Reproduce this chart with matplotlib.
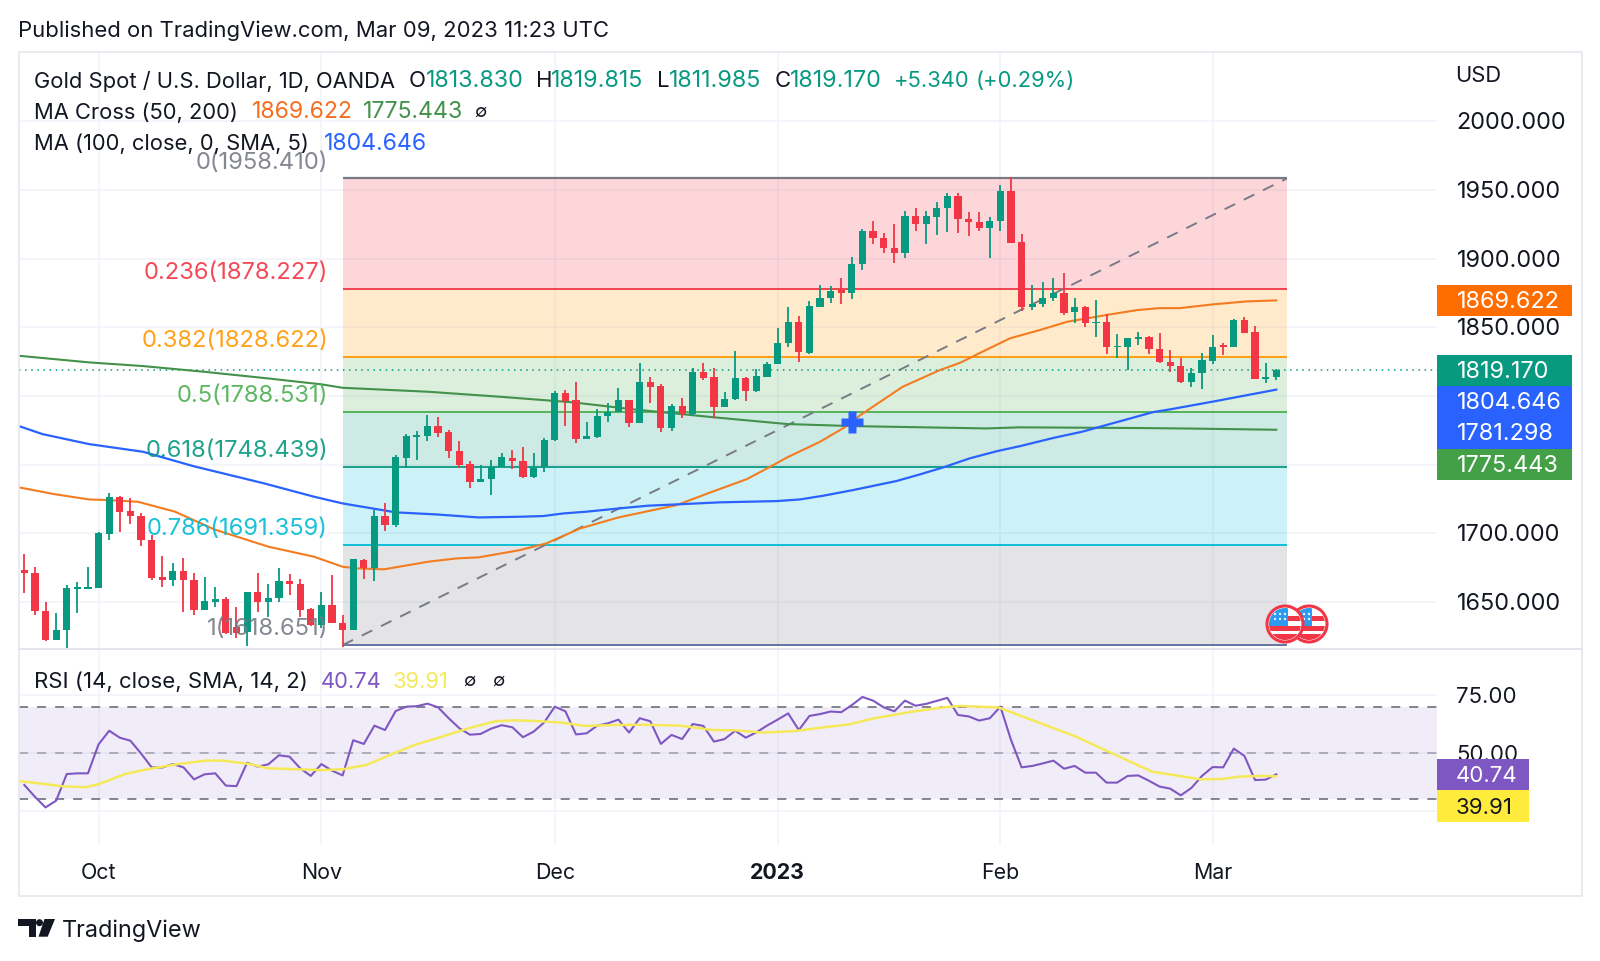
import matplotlib
matplotlib.use('Agg')
import matplotlib.pyplot as plt
from matplotlib.patches import Rectangle, Circle, Polygon, FancyBboxPatch
from matplotlib.transforms import ScaledTranslation
import numpy as np

plt.rcParams['font.family'] = ['Inter', 'DejaVu Sans']

opens = [1673.3,1671.3,1643.7,1622.3,1629.6,1659.7,1659.7,1660.2,1699.5,1726.2,
         1716,1712.8,1695.1,1667.9,1666,1672.8,1666,1644.2,1650,1651.9,
         1632,1628.1,1657,1649.7,1653.1,1665.3,1663.1,1644.6,1633.2,1647.8,
         1635,1629.6,1680.6,1674.8,1712.6,1706.3,1754.8,1770.4,1770.9,1778.1,
         1773.5,1760,1750.5,1737.4,1739.5,1748.5,1755.1,1752.9,1741.2,1748.5,
         1768,1802.4,1797.1,1768.4,1770.4,1785.7,1788.6,1797.1,1780.6,1810.4,
         1807.3,1776.4,1792.7,1786.9,1817.5,1813.8,1791.7,1797.6,1813.1,1803.6,
         1814,1823,1838.3,1853.6,1831.5,1865,1871.1,1877.2,1875.2,1896.1,
         1920.1,1915,1907.7,1903.9,1931.3,1925.2,1930.6,1936.9,1945.6,1928.6,
         1926.7,1922.3,1927.4,1949.5,1911.9,1864.5,1867,1871.1,1874.7,1861.1,
         1864.5,1852.9,1853.6,1835.4,1835.9,1841.7,1843.2,1834,1824.5,1821.8,
         1810.4,1816.5,1825.7,1836.9,1835.4,1855,1846.3,1812.6,1813.83]
highs = [1684.9,1675.2,1649.7,1642.2,1662.4,1664.3,1675.7,1700.7,1729.1,1727.4,
         1725.5,1714.5,1699,1683.5,1678.1,1682.3,1671.3,1668.2,1660.7,1653.9,
         1646.1,1657.5,1670.9,1662.8,1674.5,1670.1,1666.7,1645.9,1657,1669.6,
         1640.8,1681.3,1681.3,1717,1721.8,1757,1772.3,1774.7,1786.1,1785,
         1775.2,1767.2,1752.6,1749.7,1753.4,1758.2,1760.7,1763.1,1758.2,1769.2,
         1803.9,1804.4,1809.9,1781.3,1790.3,1794.6,1806,1797.1,1824.3,1814,
         1808.5,1793.9,1798.3,1820.1,1823.8,1820.1,1803.1,1832.8,1814,1819.6,
         1825,1849.2,1865,1858.5,1869.4,1880.8,1880.1,1886.1,1901,1921.3,
         1927.6,1918.4,1925.2,1934.9,1936.6,1934.9,1941.5,1947.5,1948,1934.2,
         1934.2,1930.6,1953.6,1959.2,1917.7,1880.8,1883.2,1886.1,1889.3,1871.1,
         1865.8,1869.9,1859.4,1845.1,1842.5,1846.8,1843.7,1845.6,1833.5,1827.4,
         1820.1,1831,1844.4,1838.3,1855.8,1857.8,1851.2,1824.3,1819.815]
lows = [1656.3,1640.3,1621.8,1622.3,1616.3,1641.7,1659.5,1660,1695.1,1701,
        1706.8,1690.8,1666,1661.2,1661.6,1643,1640.5,1644.2,1646.6,1626.7,
        1623.5,1618,1643,1638.8,1650.2,1655.1,1638.8,1632.5,1630.8,1634.5,
        1617.5,1629.6,1667,1665,1702,1704.4,1747.3,1753.4,1767.2,1770.4,
        1755.1,1747.8,1732.7,1737.4,1727.9,1748,1746.6,1740,1740,1744.9,
        1767.5,1778.1,1765.5,1768.4,1769.2,1781.3,1788.6,1777.7,1780.6,1795.1,
        1774,1774.5,1783.7,1785.4,1811.6,1783.7,1791.7,1797.1,1796.6,1803.1,
        1813.6,1823,1835.9,1825,1830.6,1865,1867.4,1867,1870.4,1891.7,
        1910.7,1903.9,1896.6,1900.7,1920.1,1910.7,1917.2,1919.6,1918.4,1916.5,
        1920.4,1900.7,1920.4,1911.1,1861.9,1862.6,1865,1869.2,1859,1852.9,
        1850.5,1843.2,1830.6,1827.9,1818.9,1837.1,1830.6,1823.8,1817.7,1809.2,
        1806.8,1804.8,1823,1829.8,1835.4,1845.6,1812.1,1809.7,1811.985]
closes = [1671.3,1643.7,1622.3,1629.6,1660,1660.7,1660.7,1700,1726.2,1715.5,
          1712.6,1695.1,1667.4,1666,1672.8,1666,1644.2,1650.5,1651.9,1627.2,
          1627.2,1657.5,1649.7,1653.1,1665.3,1663.1,1644.2,1633.2,1647.8,1634.5,
          1629.6,1681,1674.8,1712.6,1706.3,1755.3,1770.9,1771.6,1778.1,1773.3,
          1760,1749.7,1737.6,1739.3,1748.5,1755.3,1752.9,1741.2,1748.5,1768,
          1802.4,1796.6,1768.4,1771.1,1785.7,1788.6,1797.1,1780.1,1810.4,1806.8,
          1776.4,1792.9,1786.9,1817.7,1813.3,1791.7,1797.6,1813.1,1803.9,1814.5,
          1823,1838.8,1853.6,1832,1865.5,1871.1,1876.7,1875.2,1896.1,1920.1,
          1915.3,1907.7,1903.9,1931.3,1925.2,1930.8,1936.9,1945.6,1928.6,1926.9,
          1922.3,1927.4,1949.5,1911.6,1865,1867,1871.1,1874.7,1860.7,1864.5,
          1852.9,1853.9,1835.4,1836.4,1842,1842.7,1834,1824.5,1822.1,1809.9,
          1816.5,1826.2,1835.9,1835.9,1855.3,1846.1,1812.4,1813.6,1819.17]

ma200_x = [-0.5,6.1,11.2,16.9,23,28,30,38.1,44.8,51.7,57.4,65,71.9,78.1,90.7,93.8,105,110,118]
ma200_y = [1829.3,1824.5,1821.8,1817.7,1812.8,1808.5,1806,1803.1,1799.5,1795.4,1790.3,1784.5,1779.6,1778.1,1776.4,1777.2,1776.7,1776.3,1775.443]
ma50_x = [-0.5,2.8,6.1,8,10.7,14.2,17.9,23,27.3,30,31.4,33.9,38.1,40.8,42.8,46.7,49.2,52.4,56,59.3,61.5,64.6,68.1,70.3,71.9,75,77.4,78.8,82.8,86.3,88.2,90.1,92.9,95.7,98.3,102,104.9,107,108.9,112,115.2,118]
ma50_y = [1733.5,1728.6,1724.7,1724.2,1723,1715.8,1702.9,1690.3,1683,1675.7,1674.5,1673.8,1679.4,1681.8,1682.5,1687.8,1692.7,1703.6,1711.6,1717,1720.6,1729.6,1739.5,1748.5,1755.3,1766.7,1777.6,1786.1,1806.8,1818.9,1824.2,1831.5,1842,1848,1854.1,1859,1862.6,1864,1864,1866.7,1868.9,1869.622]
ma100_x = [-0.5,1.7,6.1,11.2,15.9,22.6,27.3,30,35,38.8,42.8,46.7,48.9,50.8,53,56.1,58.7,61.5,65.6,70.9,73.1,75.3,78.1,82.2,84.4,86.6,89.1,91.7,93.9,97,99.7,106.4,108,112,118]
ma100_y = [1778.1,1772.3,1765,1759.4,1749,1736.4,1726.7,1721.8,1715.3,1713.8,1711.6,1712.1,1712.6,1714.5,1715.8,1718.2,1720.1,1721.1,1722.6,1723.5,1724.7,1727.4,1731.5,1738.1,1742.9,1748,1754.6,1759.9,1763.6,1769.5,1774,1788.3,1790.3,1795.9,1804.646]

rsi = [36.2,31.1,26.5,29.4,40.9,41.2,41.2,53.7,59.6,56.6,55.3,49.8,43.8,43.7,45.2,43.8,38.6,40.8,41.2,35.9,
       35.7,45.8,44.1,45.1,49,48.4,43.4,40.1,45.2,42.4,40.3,55.5,53.9,61.8,59.9,68.1,70,70.2,71.3,69.7,
       65,60.7,57.9,58.2,60.5,62,61.1,56.8,59.2,63.2,70,68,58,58.5,61.8,62.8,64.4,58.8,65,63.7,
       53.9,57.8,56,62.5,61.7,54.9,56,59.6,56.6,58.9,61.8,64.4,67.1,59.9,66,66.8,67.9,67.6,70.7,74.2,
       72.6,69.7,68,72.6,70.4,71.2,72.5,73.8,66.4,65.8,64,65,70,55.6,43.8,44.4,45.5,46.7,43.2,44.4,
       41.5,41.5,37.2,37.2,40.1,40.3,38,35.5,34.6,31.7,34.9,40.1,43.9,43.8,51.9,48.7,38.3,38.5,40.74]
rsi_ma_x = [-0.5,1.9,3.6,5.7,7,9.5,11.6,14.5,17.1,18.7,21.3,22.9,25.5,28,30.1,32.2,34.7,36.8,39.4,41.9,44.4,46.1,48.2,50.7,52.8,55.8,58.3,61.8,64.9,67,69.6,72.7,74.7,77.8,79.9,83.5,86.6,88.2,91.8,99,106.3,108.3,110.9,113,114.5,116.7,118]
rsi_ma_y = [37.9,36.6,35.6,35.2,36.5,40.9,43,45.2,46.7,46.7,45.2,43.4,43,42.6,43,44.8,49.6,53.5,57.1,60.7,63.7,64.1,63.8,63.1,61.7,62.1,62.2,61.8,59.9,59.8,58.8,59.5,60.7,62.4,64.8,67.7,69.7,70.3,69.7,57.3,41.9,40.5,38.6,38.8,39.8,40.1,39.91]

fib_levels = [0, 0.236, 0.382, 0.5, 0.618, 0.786, 1]
fib_prices = [1958.41, 1878.227, 1828.622, 1788.531, 1748.439, 1691.359, 1618.651]
fib_colors = ['#787B86', '#F23645', '#FF9800', '#4CAF50', '#089981', '#00BCD4', '#787B86']
price_ticks = [1650, 1700, 1750, 1800, 1850, 1900, 1950, 2000]
price_tick_labels = ['1650.000', '1700.000', '', '', '1850.000', '1900.000', '1950.000', '2000.000']
month_pos = [7, 28, 50, 71, 92, 112]
month_labels = ['Oct', 'Nov', 'Dec', '2023', 'Feb', 'Mar']
cross_x = 78
cross_y = 1781.298
fib_start = 30
fib_end = 119

UP = '#089981'
DOWN = '#F23645'
GRID = '#F0F3FA'
TXT = '#131722'
W, H = 1600, 961

def pane(x0, y0, x1, y1):
    return fig.add_axes([x0 / W, 1 - y1 / H, (x1 - x0) / W, (y1 - y0) / H])

fig = plt.figure(figsize=(16, 9.61), dpi=100, facecolor='white')
ax = pane(18.5, 52, 1437, 649)
ax_rsi = pane(18.5, 649, 1437, 845)
for a in (ax, ax_rsi):
    a.set_xlim(-0.547, 133.15)
    a.patch.set_alpha(0)
    for s in a.spines.values():
        s.set_visible(False)
    a.yaxis.tick_right()
    a.tick_params(axis='y', length=0, pad=14, labelcolor=TXT)
    a.set_xticks(month_pos)
    a.grid(True, color=GRID, lw=1.1, zorder=0)
    a.set_axisbelow(True)
ax.set_ylim(1615.8, 2050.5)
ax_rsi.set_ylim(10.26, 94.9)

ax.set_yticks(price_ticks)
ax.set_yticklabels(price_tick_labels)
ax.tick_params(axis='y', labelsize=16.9)
ax.tick_params(axis='x', length=0, labelbottom=False)

# fib zones
for i in range(len(fib_prices) - 1):
    ax.fill_between([fib_start, fib_end], fib_prices[i], fib_prices[i + 1],
                    color=fib_colors[i + 1], alpha=0.2, lw=0, zorder=1)
for i, p in enumerate(fib_prices):
    c = fib_colors[i]
    lw = 1.3
    if i == 0:
        lw = 1.6
    if i == len(fib_prices) - 1:
        c = '#5B6A9E'
    ax.plot([fib_start, fib_end], [p, p], color=c, lw=lw, zorder=2, solid_capstyle='butt')
    ax.annotate('%g(%.3f)' % (fib_levels[i], p), xy=(fib_start, p), xytext=(-10.6, 11.4),
                textcoords='offset points', ha='right', va='center', fontsize=17.1,
                color=fib_colors[i], alpha=0.9, zorder=6)
ax.plot([fib_start, fib_end], [fib_prices[-1], fib_prices[0]], color='#787B86', lw=1.4,
        dashes=(6, 5), zorder=2)

# moving averages
ax.plot(ma200_x, ma200_y, color='#43914A', lw=1.5, zorder=3)
ax.plot(ma50_x, ma50_y, color='#F47C20', lw=1.5, zorder=3)
ax.plot(ma100_x, ma100_y, color='#2962FF', lw=1.6, zorder=3)

# last price line
ax.axhline(closes[-1], color=UP, lw=1.1, ls=(0, (1, 3)), zorder=2)

# candles
idx = np.arange(len(closes))
colors = [UP if c >= o else DOWN for o, c in zip(opens, closes)]
ax.vlines(idx, lows, highs, colors=colors, lw=1.3, zorder=4)
body_h = np.maximum(np.abs(np.array(closes) - np.array(opens)), 0.9)
ax.bar(idx, body_h, bottom=np.minimum(opens, closes), width=0.68, color=colors, lw=0, zorder=4)

# ma cross mark
ax.plot([cross_x], [cross_y], marker='P', ms=16, color='#2962FF', mec='none', zorder=5)

# rsi pane
ax_rsi.fill_between([-0.547, 133.15], 30, 70, color='#7E57C2', alpha=0.1, lw=0, zorder=1)
for v, c in ((70, '#787B86'), (50, '#A6A8B2'), (30, '#787B86')):
    ax_rsi.axhline(v, color=c, lw=1.3, dashes=(5, 5), zorder=2)
ax_rsi.plot(idx, rsi, color='#7E57C2', lw=1.5, zorder=4)
ax_rsi.plot(rsi_ma_x, rsi_ma_y, color='#F5E95A', lw=1.8, zorder=5)
ax_rsi.set_yticks([25, 50, 75])
ax_rsi.set_yticklabels(['', '50.00', '75.00'])
ax_rsi.tick_params(axis='y', labelsize=16)
ax_rsi.set_xticklabels(month_labels)
ax_rsi.tick_params(axis='x', length=0, pad=13.2, labelsize=15.4, labelcolor=TXT)
ax_rsi.get_xticklabels()[3].set_fontweight('bold')

# price labels sit a touch lower in the reference
for lab in ax.get_yticklabels():
    lab.set_transform(lab.get_transform() + ScaledTranslation(0, 0.4 / 72, fig.dpi_scale_trans))
for lab in ax_rsi.get_yticklabels():
    lab.set_transform(lab.get_transform() + ScaledTranslation(0, 0.2 / 72, fig.dpi_scale_trans))

# overlay in pixels for legend, labels and logo
ov = fig.add_axes([0, 0, 1, 1], facecolor='none', zorder=10)
ov.set_xlim(0, W)
ov.set_ylim(H, 0)
ov.axis('off')

ov.add_patch(Rectangle((18.5, 52), 1563, 844, fc='none', ec='#E6E8EE', lw=1.2))
ov.plot([18.5, 1581.5], [649, 649], color='#E0E3EB', lw=1.3)

def label(x, y, s, color=TXT, size=15.8, **kw):
    ov.text(x, y + 1.5, s, color=color, fontsize=size, va='center', **kw)

NUM = 16.8
label(18.5, 29, 'Published on TradingView.com, Mar 09, 2023 11:23 UTC', size=15.9)

label(33.5, 79.5, 'Gold Spot / U.S. Dollar, 1D, OANDA')
for x, s, c, z in [(409, 'O', TXT, 15.9), (425.5, '1813.830', UP, NUM), (535.5, 'H', TXT, 15.9),
                   (551, '1819.815', UP, NUM), (657, 'L', TXT, 15.9), (668.5, '1811.985', UP, NUM),
                   (774.5, 'C', TXT, 15.9), (790, '1819.170', UP, NUM),
                   (894, '+5.340', UP, 15.8), (975.5, '(+0.29%)', UP, 15.8)]:
    label(x, 79.5, s, c, z)
label(33.5, 111, 'MA Cross (50, 200)')
label(252, 111, '1869.622', '#F76D1F', 16.6)
label(363, 111, '1775.443', '#43914A', 16.6)
label(474, 111, '\u2205', size=13)
label(33.5, 142.5, 'MA (100, close, 0, SMA, 5)')
label(323.5, 142.5, '1804.646', '#2962FF', 16.6)
label(33.5, 680, 'RSI (14, close, SMA, 14, 2)', size=16)
label(321, 680, '40.74', '#7E57C2')
label(393, 680, '39.91', '#F5E95A')
label(463, 680, '\u2205', size=13)
label(492, 680, '\u2205', size=13)
label(1455, 75, 'USD')

# axis value boxes
for y0, y1, c, s in [(285, 316, '#FF6D00', '1869.622'), (355, 386, UP, '1819.170'),
                     (386, 417, '#2962FF', '1804.646'), (417, 449, '#2962FF', '1781.298'),
                     (449, 480, '#43A047', '1775.443')]:
    ov.add_patch(Rectangle((1437, y0), 135, y1 - y0, fc=c, ec='none'))
    label(1457, (y0 + y1) / 2, s, 'white', 16.9)
ov.add_patch(FancyBboxPatch((1437, 759), 92, 31, boxstyle='square,pad=0', fc='#7E57C2', ec='none'))
label(1456, 774.5, '40.74', 'white', 16)
ov.add_patch(FancyBboxPatch((1437, 790), 92, 32, boxstyle='square,pad=0', fc='#FFEB3B', ec='none'))
label(1456, 806, '39.91', TXT, 16)

# event flags
def flag(cx, cy, r=18):
    clip = Circle((cx, cy), r - 2, transform=ov.transData)
    ov.add_patch(Circle((cx, cy), r, fc='white', ec='#F23645', lw=2.2))
    for x, y, w, h, c in [(cx - r, cy - r, r + 3, r + 2, '#2E9BF0'),
                          (cx + 3, cy - 8, r, 5, '#F23645'),
                          (cx - r, cy + 2, 2 * r, 5, '#F23645'),
                          (cx - r, cy + 10, 2 * r, r, '#F23645')]:
        p = Rectangle((x, y), w, h, fc=c, ec='none')
        ov.add_patch(p)
        p.set_clip_path(clip)
    for dx in (-10, -5, 0):
        for dy in (-10, -5):
            ov.add_patch(Circle((cx + dx, cy + dy), 1.1, fc='white', ec='none'))

flag(1309, 624)
flag(1285, 624)

# logo
ov.add_patch(Polygon([(18.3, 919), (36, 919), (36, 936.7), (28.5, 936.7), (28.5, 926), (18.3, 926)],
                     fc=TXT, ec='none'))
ov.add_patch(Circle((39.5, 922.7), 3.5, fc=TXT, ec='none'))
ov.add_patch(Polygon([(44.5, 919), (55, 919), (47.7, 936.7), (38.5, 936.7)], fc=TXT, ec='none'))
label(61.5, 929, 'TradingView', size=16.9)

fig.savefig('out.png', dpi=100, facecolor='white')
